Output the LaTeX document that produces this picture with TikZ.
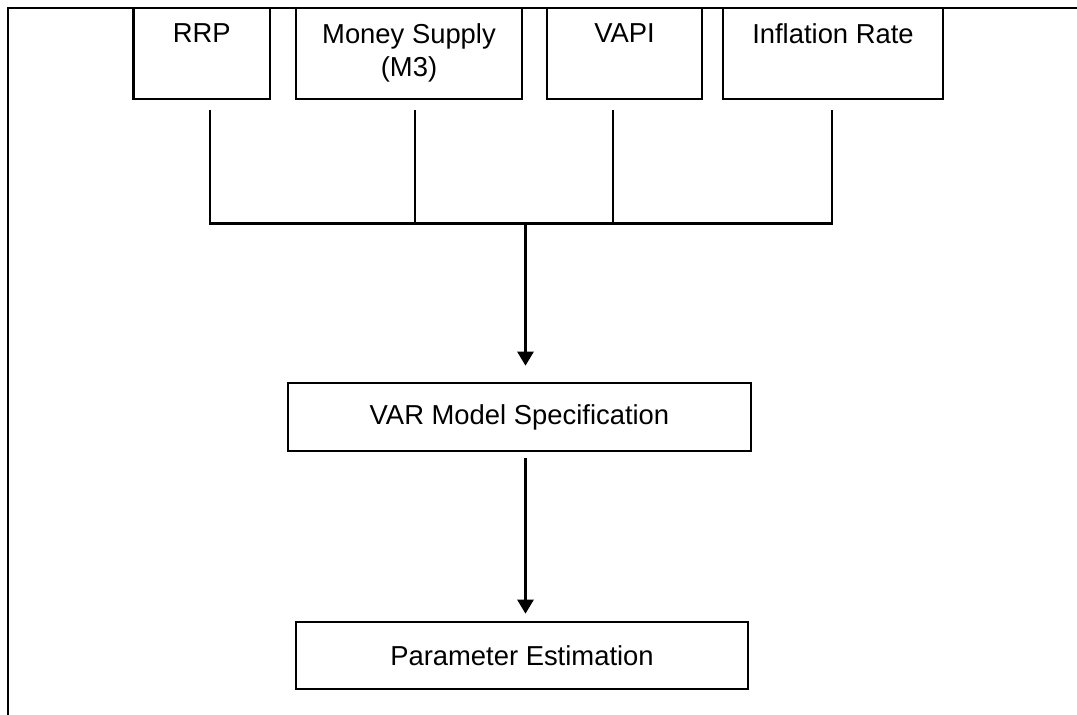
\documentclass[tikz,border=0pt]{standalone}
\usepackage{fontspec}
\setmainfont{Liberation Sans}
\usetikzlibrary{arrows.meta,calc}
\begin{document}
\begin{tikzpicture}[x=1pt,y=-1pt,
  box/.style={draw, line width=2.6pt, rectangle, inner sep=0pt},
  txt/.style={font=\fontsize{27.4}{33}\selectfont, align=center, inner sep=0pt},
  ln/.style={line width=2.6pt},
  arr/.style={line width=2.6pt, -{Triangle[width=16pt,length=14pt]}}]
\useasboundingbox (0,0) rectangle (1077,715);
% frame
\coordinate (tr) at (1077,8);
\coordinate (tl) at (8,8);
\coordinate (bl) at (8,715);
\draw[ln] (tr) -- (tl) -- (bl);
% top boxes
\node[box, minimum width=136.5pt, minimum height=91pt] (rrp) at (201.75,53.5) {};
\node[box, minimum width=226pt, minimum height=91pt] (ms) at (409,53.5) {};
\node[box, minimum width=155pt, minimum height=91pt] (vapi) at (624.5,53.5) {};
\node[box, minimum width=220pt, minimum height=91pt] (infl) at (833,53.5) {};
\node[txt, anchor=north] (rrpT) at ($(rrp.north)+(0,16.5)$) {RRP};
\node[txt, anchor=north] (msT) at ($(ms.north)+(0,16.5)$) {Money Supply\\(M3)};
\node[txt, anchor=north] (vapiT) at ($(vapi.north)+(0,16.5)$) {VAPI};
\node[txt, anchor=north] (inflT) at ($(infl.north)+(0,16.5)$) {Inflation Rate};
% lower boxes
\node[box, txt, minimum width=463pt, minimum height=68pt] (var) at (519.5,417) {VAR Model Specification};
\node[box, txt, minimum width=452pt, minimum height=67pt] (par) at (522,655.5) {Parameter Estimation};
% bus
\coordinate (s1) at ($(rrp.south)+(8.25,10)$);
\coordinate (s2) at ($(ms.south)+(6,10)$);
\coordinate (s3) at ($(vapi.south)+(-11.5,10)$);
\coordinate (s4) at ($(infl.south)+(-1,10)$);
\coordinate (b1) at ($(s1)+(0,113)$);
\coordinate (b2) at ($(s2)+(0,113)$);
\coordinate (b3) at ($(s3)+(0,113)$);
\coordinate (b4) at ($(s4)+(0,113)$);
\coordinate (bus) at (525.5,222);
\draw[ln] (s1) -- (b1) -- (b4) -- (s4);
\draw[ln] (s2) -- (b2);
\draw[ln] (s3) -- (b3);
% arrows
\draw[arr] (bus) -- ($(bus |- var.north)+(0,-16)$);
\draw[arr] ($(bus |- var.south)+(0,6)$) -- ($(bus |- par.north)+(0,-7)$);
\end{tikzpicture}
\end{document}
